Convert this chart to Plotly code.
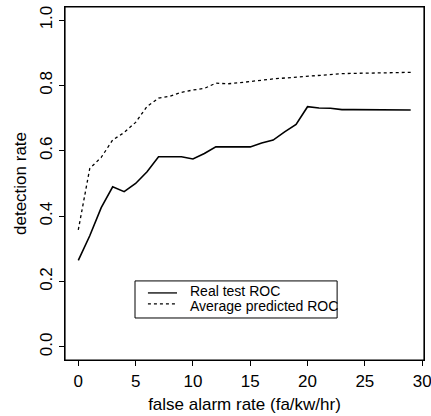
import plotly.graph_objects as go

far = list(range(30))
real_roc = [0.265, 0.34, 0.426, 0.49, 0.475, 0.50, 0.536, 0.582, 0.582, 0.582,
            0.575, 0.592, 0.612, 0.612, 0.612, 0.612, 0.624, 0.633, 0.658, 0.681,
            0.735, 0.731, 0.730, 0.726, 0.726, 0.726, 0.726, 0.726, 0.726, 0.725]
pred_roc = [0.358, 0.546, 0.58, 0.633, 0.656, 0.687, 0.736, 0.761, 0.767, 0.779,
            0.786, 0.791, 0.807, 0.805, 0.808, 0.813, 0.816, 0.82, 0.823, 0.825,
            0.828, 0.832, 0.835, 0.836, 0.837, 0.838, 0.839, 0.839, 0.839, 0.84]
x_ticks = [0, 5, 10, 15, 20, 25, 30]
y_ticks = [0.0, 0.2, 0.4, 0.6, 0.8, 1.0]
series_names = ["Real test ROC", "Average predicted ROC"]

fig = go.Figure()
fig.add_trace(go.Scatter(x=far, y=real_roc, mode="lines", name=series_names[0],
                         line=dict(color="black", width=1.6), showlegend=False))
fig.add_trace(go.Scatter(x=far, y=pred_roc, mode="lines", name=series_names[1],
                         line=dict(color="black", width=1.3, dash="dot"), showlegend=False))

axis_common = dict(showline=True, linecolor="black", linewidth=1.2, mirror=True,
                   ticks="outside", ticklen=5, tickcolor="black", showgrid=False,
                   zeroline=False, automargin=False, ticklabeloverflow="allow",
                   tickfont=dict(size=17, color="black"))

# plot frame + manual R-style legend box (paper coordinates of the plot area)
shapes = [
    dict(type="rect", xref="paper", yref="paper", x0=0, x1=1, y0=0, y1=1,
         line=dict(color="black", width=1.2), layer="above"),
    dict(type="rect", xref="paper", yref="paper", x0=0.195, x1=0.758, y0=0.119, y1=0.224,
         line=dict(color="black", width=1), fillcolor="white", layer="above"),
    dict(type="line", xref="paper", yref="paper", x0=0.231, x1=0.312, y0=0.190, y1=0.190,
         line=dict(color="black", width=1.3)),
    dict(type="line", xref="paper", yref="paper", x0=0.231, x1=0.312, y0=0.159, y1=0.159,
         line=dict(color="black", width=1.3, dash="dot")),
]
annotations = [
    dict(xref="paper", yref="paper", x=0.343, y=0.196, text=series_names[0],
         showarrow=False, xanchor="left", yanchor="middle", font=dict(size=14, color="black")),
    dict(xref="paper", yref="paper", x=0.343, y=0.153, text=series_names[1],
         showarrow=False, xanchor="left", yanchor="middle", font=dict(size=14, color="black")),
]

fig.update_layout(
    width=431, height=416,
    margin=dict(l=65, r=7, t=7, b=56),
    paper_bgcolor="white", plot_bgcolor="white",
    font=dict(family="Liberation Sans, Arial, sans-serif", color="black"),
    xaxis=dict(range=[-1.16, 30.16], tickvals=x_ticks, ticktext=[str(v) for v in x_ticks],
               title=dict(text="false alarm rate (fa/kw/hr)", font=dict(size=17), standoff=8),
               **axis_common),
    yaxis=dict(range=[-0.04, 1.04], tickvals=y_ticks, ticktext=[f"{v:.1f}" for v in y_ticks],
               tickangle=-90,
               title=dict(text="detection rate", font=dict(size=17), standoff=6),
               **axis_common),
    shapes=shapes,
    annotations=annotations,
    showlegend=False,
)
fig.write_html("out.html", config={"displayModeBar": False},
               post_script="document.body.style.margin='0';document.body.style.overflow='hidden';")
